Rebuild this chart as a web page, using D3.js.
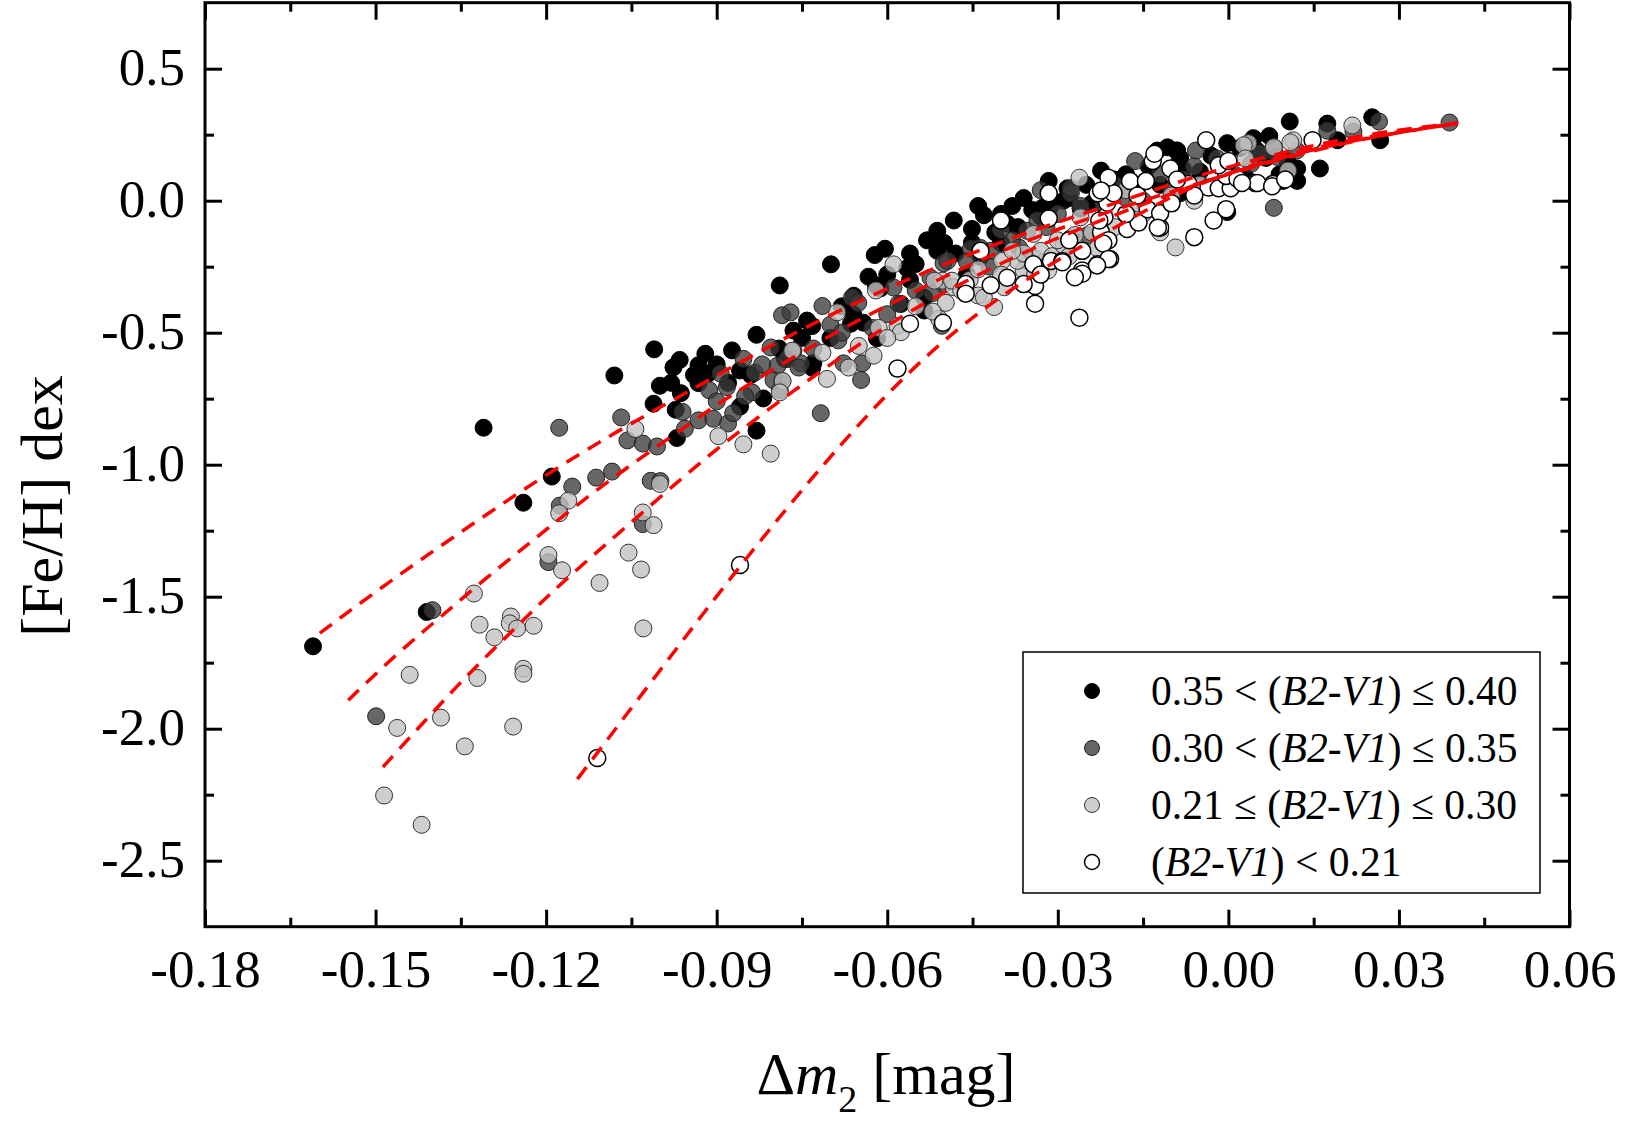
<!DOCTYPE html>
<html>
<head>
<meta charset="utf-8">
<script src="https://cdn.jsdelivr.net/npm/d3@7"></script>
<style>
    body { margin: 0; background: #fff; }
    text { font-family: "Liberation Serif", "Times New Roman", serif; fill: #000; }
</style>
</head>
<body>
<div id="chart"></div>
<script>

// tick values
let xTicks = [-0.18, -0.15, -0.12, -0.09, -0.06, -0.03, 0.00, 0.03, 0.06];
let xMinor = [-0.165, -0.135, -0.105, -0.075, -0.045, -0.015, 0.015, 0.045];
let yTicks = [-2.5, -2.0, -1.5, -1.0, -0.5, 0.0, 0.5];
let yMinor = [-2.25, -1.75, -1.25, -0.75, -0.25, 0.25];

// 0.35 < (B2-V1) <= 0.40
let blackPts = [
    [-0.161,-1.688],[-0.141,-1.558],[-0.131,-0.860],[-0.124,-1.144],[-0.119,-1.045],[-0.108,-0.662],[-0.101,-0.563],[-0.100,-0.701],
    [-0.097,-0.899],[-0.083,-0.871],[-0.083,-0.508],[-0.0965,-0.603],[-0.0976,-0.631],[-0.0932,-0.623],[-0.0963,-0.729],[-0.0972,-0.792],
    [-0.1011,-0.769],[-0.0859,-0.780],[-0.0873,-0.567],[-0.0818,-0.749],[-0.0765,-0.492],[-0.0932,-0.691],[-0.0915,-0.655],[-0.0789,-0.321],
    [-0.0741,-0.454],[-0.0730,-0.615],[-0.0859,-0.643],[-0.0699,-0.241],[-0.0622,-0.206],[-0.0604,-0.182],[-0.0633,-0.288],[-0.0565,-0.256],
    [-0.0664,-0.466],[-0.0642,-0.462],[-0.0659,-0.360],[-0.0612,-0.332],[-0.0576,-0.391],[-0.0535,-0.367],[-0.0535,-0.416],[-0.0530,-0.150],
    [-0.0512,-0.114],[-0.0512,-0.190],[-0.0483,-0.075],[-0.0451,-0.107],[-0.0451,-0.158],[-0.0430,-0.055],[-0.0436,-0.213],[-0.0389,-0.087],
    [-0.0345,-0.035],[-0.0316,0.075],[-0.0283,0.047],[-0.0224,0.114],[-0.0732,-0.475],[-0.0732,-0.633],[-0.0618,-0.521],[-0.0317,-0.047],
    [-0.0327,-0.027],[-0.0312,-0.019],[-0.0002,-0.043],[-0.0107,0.202],[-0.0090,0.190],[-0.0002,0.218],[0.0044,0.237],[0.0072,0.245],
    [-0.0085,0.028],[0.0108,0.300],[0.0174,0.292],[0.0253,0.316],[0.0267,0.229],[0.0192,0.229],[0.0161,0.122],[0.0106,0.122],
    [0.0121,0.122],[0.0104,0.150],[0.0121,0.075],[0.0096,0.075],[0.0066,0.162],[-0.0085,0.162],[-0.0092,0.190],[-0.0125,0.190],
    [-0.0380,-0.020],[-0.0360,0.010],[-0.0290,0.000],[-0.0260,-0.030],[-0.0250,0.060],[-0.0200,0.030],[-0.0180,0.100],[-0.0160,0.050],
    [-0.0140,0.130],[-0.0050,0.110],[0.0000,0.140],[0.0030,0.090],[0.0050,0.190],[-0.0030,0.170],[0.0090,0.100],[-0.0410,-0.120],
    [-0.0480,-0.200],[-0.0560,-0.300],[-0.0600,-0.280],[-0.0680,-0.400],[-0.0700,-0.520],[-0.0790,-0.560],[-0.0880,-0.690],[-0.0900,-0.620],
    [-0.0940,-0.660],[-0.0460,-0.280],[-0.0400,-0.160],[-0.0560,-0.200],
    [-0.044,-0.020],[-0.040,-0.050],[-0.037,-0.100],[-0.033,-0.060],[-0.028,0.010],[-0.024,-0.010],[-0.020,0.080],[-0.012,0.060],
    [-0.008,0.120],[0.002,0.200],[-0.050,-0.160],[-0.055,-0.240],[-0.062,-0.320],[-0.066,-0.430],[-0.075,-0.520],[-0.078,-0.600],
    [-0.084,-0.660],[-0.092,-0.580],[-0.098,-0.690]
];

// 0.30 < (B2-V1) <= 0.35
let darkPts = [
    [-0.1177,-0.860],[-0.1068,-0.821],[-0.1057,-0.908],[-0.1030,-0.920],[-0.1112,-1.049],[-0.1084,-1.026],[-0.1154,-1.083],[-0.1176,-1.155],
    [-0.1016,-1.061],[-0.1030,-1.225],[-0.1196,-1.369],[-0.1400,-1.551],[-0.1499,-1.953],[-0.0999,-1.062],[-0.1005,-0.931],[-0.0956,-0.864],
    [-0.0932,-0.832],[-0.0906,-0.826],[-0.0880,-0.844],[-0.0871,-0.805],[-0.0913,-0.718],[-0.0882,-0.706],[-0.0853,-0.599],[-0.0833,-0.651],
    [-0.0838,-0.726],[-0.0805,-0.556],[-0.0776,-0.600],[-0.0793,-0.625],[-0.0785,-0.683],[-0.0789,-0.718],[-0.0785,-0.434],[-0.0770,-0.423],
    [-0.0893,-0.655],[-0.0765,-0.568],[-0.0752,-0.616],[-0.0717,-0.805],[-0.0714,-0.399],[-0.0756,-0.632],[-0.0686,-0.529],[-0.0677,-0.616],
    [-0.0644,-0.616],[-0.0646,-0.679],[-0.0589,-0.329],[-0.0662,-0.367],[-0.0651,-0.387],[-0.0626,-0.482],[-0.0501,-0.237],[-0.0524,-0.292],
    [-0.0501,-0.316],[-0.0494,-0.228],[-0.0504,-0.474],[-0.0453,-0.182],[-0.0436,-0.179],[-0.0418,-0.190],[-0.0380,-0.150],[-0.0368,-0.178],
    [-0.0354,-0.114],[-0.0336,-0.075],[-0.0354,-0.228],[-0.0277,-0.142],[-0.0247,-0.130],[-0.0277,0.028],[-0.0277,0.047],[-0.0164,0.150],
    [-0.0057,0.190],[0.0080,0.202],[0.0086,0.166],[0.0080,-0.027],[0.0174,0.265],[0.0220,0.261],[0.0265,0.300],[0.0389,0.296],
    [0.0057,0.178],[-0.0200,0.060],[-0.0120,0.100],[-0.0100,0.040],[-0.0060,0.130],[0.0010,0.100],[-0.0300,-0.050],[-0.0220,-0.010],
    [-0.0420,-0.250],[-0.0550,-0.340],[-0.0600,-0.430],[-0.0700,-0.470],[-0.0730,-0.560],[-0.0820,-0.620],[-0.0850,-0.740],[-0.0960,-0.800],
    [-0.0330,0.040],[-0.0150,0.000],
    [-0.046,-0.230],[-0.040,-0.110],[-0.032,-0.100],[-0.026,-0.020],[-0.018,0.010],[-0.008,0.080],[-0.002,0.160],[0.004,0.140],
    [0.012,0.190],[-0.052,-0.350],[-0.058,-0.390],[-0.068,-0.500],[-0.080,-0.680],[-0.090,-0.760]
];

// 0.21 <= (B2-V1) <= 0.30
let lightPts = [
    [-0.1043,-0.865],[-0.1161,-1.136],[-0.1177,-1.184],[-0.1030,-1.181],[-0.1196,-1.342],[-0.1172,-1.400],[-0.1055,-1.333],[-0.1033,-1.397],
    [-0.1106,-1.448],[-0.1327,-1.488],[-0.1317,-1.606],[-0.1262,-1.575],[-0.1264,-1.601],[-0.1251,-1.620],[-0.1222,-1.610],[-0.1291,-1.654],
    [-0.1240,-1.773],[-0.1240,-1.792],[-0.1321,-1.808],[-0.1440,-1.796],[-0.1029,-1.620],[-0.1462,-1.997],[-0.1385,-1.958],[-0.1258,-1.992],
    [-0.1343,-2.067],[-0.1485,-2.253],[-0.1419,-2.364],[-0.0805,-0.958],[-0.0853,-0.923],[-0.0897,-0.892],[-0.1011,-1.229],[-0.1000,-1.073],
    [-0.0784,-0.683],[-0.0789,-0.726],[-0.0767,-0.568],[-0.0688,-0.423],[-0.0714,-0.576],[-0.0668,-0.632],[-0.0624,-0.587],[-0.0706,-0.675],
    [-0.0589,-0.241],[-0.0620,-0.340],[-0.0615,-0.482],[-0.0582,-0.474],[-0.0576,-0.498],[-0.0509,-0.447],[-0.0497,-0.387],[-0.0440,-0.359],
    [-0.0412,-0.403],[-0.0394,-0.328],[-0.0360,-0.264],[-0.0317,-0.264],[-0.0503,-0.303],[-0.0483,-0.328],[-0.0455,-0.300],[-0.0430,-0.367],
    [-0.0371,-0.228],[-0.0340,-0.221],[-0.0325,-0.233],[-0.0343,-0.126],[-0.0517,-0.303],[-0.0486,-0.303],[-0.0398,-0.228],[-0.0260,-0.063],
    [-0.0262,0.087],[-0.0093,-0.177],[0.0035,0.218],[0.0218,0.285],[0.0114,0.229],[0.0105,0.114],[0.0080,0.202],[0.0109,0.221],
    [0.0027,0.210],[-0.0360,-0.200],[-0.0330,-0.190],[-0.0310,-0.210],[-0.0290,-0.170],[-0.0270,-0.130],[-0.0300,-0.150],[-0.0200,-0.100],
    [-0.0150,-0.050],[-0.0100,0.020],[-0.0050,0.060],[-0.0180,0.040],[-0.0400,-0.280],[-0.0550,-0.400],[-0.0650,-0.550],[-0.0230,-0.180],
    [-0.0120,-0.120],
    [-0.044,-0.260],[-0.038,-0.190],[-0.034,-0.280],[-0.028,-0.210],[-0.024,-0.120],[-0.016,-0.010],[-0.006,0.000],[0.003,0.160],
    [-0.047,-0.340],[-0.052,-0.420],[-0.060,-0.520]
];

// (B2-V1) < 0.21
let whitePts = [
    [-0.1110,-2.111],[-0.0859,-1.380],[-0.0582,-0.636],[-0.0560,-0.466],[-0.0502,-0.462],[-0.0462,-0.316],[-0.0462,-0.352],[-0.0418,-0.320],
    [-0.0389,-0.292],[-0.0340,-0.323],[-0.0340,-0.390],[-0.0343,-0.241],[-0.0312,-0.228],[-0.0292,-0.228],[-0.0262,-0.443],[-0.0257,-0.264],
    [-0.0230,-0.241],[-0.0208,-0.221],[-0.0257,-0.190],[-0.0224,-0.119],[-0.0211,-0.150],[-0.0218,-0.063],[-0.0213,-0.008],[-0.0230,0.028],
    [-0.0202,0.028],[-0.0211,0.087],[-0.0173,0.075],[-0.0145,0.075],[-0.0178,-0.107],[-0.0158,-0.083],[-0.0120,-0.102],[-0.0133,0.150],
    [-0.0102,0.122],[-0.0060,-0.138],[-0.0026,-0.075],[-0.0004,-0.032],[-0.0035,0.050],[-0.0017,0.047],[0.0022,0.075],[0.0004,0.047],
    [-0.0039,0.229],[-0.0130,0.178],[-0.0224,0.039],[-0.0316,0.028],[-0.0316,-0.067],[-0.0227,-0.075],[-0.0142,-0.032],[-0.0120,-0.048],
    [-0.0124,-0.102],[-0.0070,0.063],[-0.0004,0.094],[0.0016,0.083],[0.0047,0.067],[0.0078,0.063],[-0.0017,0.134],[0.0000,0.150],
    [-0.0220,-0.162],[-0.0211,-0.221],[-0.0231,-0.245],[-0.0257,-0.277],[-0.0292,-0.233],[-0.0436,-0.190],[-0.0400,-0.075],[-0.0360,-0.316],
    [0.0148,0.229],[0.0051,0.067],[0.0077,0.055],[0.0024,0.067],
    [-0.028,-0.150],[-0.018,-0.050],[-0.010,-0.010],[-0.006,0.020],[-0.016,0.020],[-0.009,0.080],[0.010,0.080],[-0.027,-0.290],
    [-0.033,-0.280]
];

// fitted relations
let fitBlack = [[-0.1598,-1.638],[-0.1480,-1.449],[-0.1351,-1.256],[-0.1216,-1.059],[-0.1082,-0.881],[-0.0952,-0.726],[-0.0809,-0.551],
    [-0.0660,-0.389],[-0.0519,-0.256],[-0.0371,-0.131],[-0.0220,-0.025],[-0.0072,0.085],[0.0092,0.183],[0.0255,0.259],[0.0403,0.293]];
let fitDark = [[-0.1548,-1.892],[-0.1462,-1.714],[-0.1386,-1.578],[-0.1304,-1.426],[-0.1223,-1.286],[-0.1140,-1.142],[-0.1052,-1.002],
    [-0.0969,-0.877],[-0.0881,-0.744],[-0.0794,-0.631],[-0.0695,-0.502],[-0.0609,-0.407],[-0.0512,-0.300],[-0.0424,-0.212],[-0.0318,-0.120],
    [-0.0195,-0.030],[-0.0054,0.065],[0.0092,0.160],[0.0255,0.245],[0.0403,0.293]];
let fitLight = [[-0.1487,-2.145],[-0.1409,-1.960],[-0.1339,-1.797],[-0.1263,-1.638],[-0.1193,-1.487],[-0.1117,-1.343],[-0.1040,-1.199],
    [-0.0959,-1.047],[-0.0888,-0.919],[-0.0811,-0.794],[-0.0727,-0.661],[-0.0647,-0.540],[-0.0559,-0.415],[-0.0466,-0.309],[-0.0378,-0.214],
    [-0.0295,-0.135],[-0.0195,-0.050],[-0.0090,0.035],[0.0021,0.120],[0.0197,0.225],[0.0403,0.293]];
let fitWhite = [[-0.1145,-2.191],[-0.1000,-1.780],[-0.0859,-1.380],[-0.0706,-0.980],[-0.0588,-0.700],[-0.0466,-0.460],[-0.0331,-0.260],
    [-0.0190,-0.090],[-0.0090,0.030],[0.0021,0.125],[0.0197,0.230],[0.0403,0.293]];

// legend rows: plain, italic, plain
let legendLabels = [
    ["0.35 < (", "B2-V1", ") \u2264 0.40"],
    ["0.30 < (", "B2-V1", ") \u2264 0.35"],
    ["0.21 \u2264 (", "B2-V1", ") \u2264 0.30"],
    ["(", "B2-V1", ") < 0.21"]
];


class MetallicityVis {

    constructor(parentElement) {
        this.parentElement = parentElement;
        this.groups = [
            {pts: blackPts, fill: "#000", fillOpacity: 1, stroke: "#000", sw: 1},
            {pts: darkPts, fill: "#3c3c3c", fillOpacity: 0.78, stroke: "#222", sw: 1},
            {pts: lightPts, fill: "#c2c2c2", fillOpacity: 0.8, stroke: "#333", sw: 1},
            {pts: whitePts, fill: "#fff", fillOpacity: 1, stroke: "#000", sw: 1.5}
        ];
        this.fits = [fitBlack, fitDark, fitLight, fitWhite];
        this.initVis();
    }

    initVis() {
        let vis = this;

        vis.margin = {top: 2.7, right: 64.5, bottom: 201.3, left: 205};
        vis.width = 1634 - vis.margin.left - vis.margin.right;
        vis.height = 1128 - vis.margin.top - vis.margin.bottom;

        vis.root = d3.select("#" + vis.parentElement).append("svg")
            .attr("width", 1634)
            .attr("height", 1128);

        vis.svg = vis.root.append("g")
            .attr("transform", "translate(" + vis.margin.left + "," + vis.margin.top + ")");

        vis.x = d3.scaleLinear().domain([-0.18, 0.06]).range([0, vis.width]);
        vis.y = d3.scaleLinear().domain([-2.75, 0.75]).range([vis.height, 0]);

        vis.drawAxes();
        vis.updateVis();
    }

    drawAxes() {
        let vis = this;

        let styleAxis = function(g) {
            g.select(".domain").remove();
            g.selectAll(".tick line").attr("stroke", "#000").attr("stroke-width", 3);
            g.selectAll("text")
                .attr("font-family", "'Liberation Serif', 'Times New Roman', serif")
                .attr("font-size", 53)
                .attr("fill", "#000");
        };

        // bottom
        vis.svg.append("g")
            .attr("transform", "translate(0," + vis.height + ")")
            .call(d3.axisBottom(vis.x).tickValues(xTicks).tickSize(-17).tickFormat(d => d.toFixed(2)))
            .call(styleAxis)
            .selectAll("text").attr("y", 60).attr("dy", 0);
        vis.svg.append("g")
            .attr("transform", "translate(0," + vis.height + ")")
            .call(d3.axisBottom(vis.x).tickValues(xMinor).tickSize(-9).tickFormat(""))
            .call(styleAxis);

        // top
        vis.svg.append("g")
            .call(d3.axisTop(vis.x).tickValues(xTicks).tickSize(-17).tickFormat(""))
            .call(styleAxis);
        vis.svg.append("g")
            .call(d3.axisTop(vis.x).tickValues(xMinor).tickSize(-9).tickFormat(""))
            .call(styleAxis);

        // left
        vis.svg.append("g")
            .call(d3.axisLeft(vis.y).tickValues(yTicks).tickSize(-17).tickPadding(20).tickFormat(d => d.toFixed(1)))
            .call(styleAxis)
            .selectAll("text").attr("dy", "0.29em");
        vis.svg.append("g")
            .call(d3.axisLeft(vis.y).tickValues(yMinor).tickSize(-9).tickFormat(""))
            .call(styleAxis);

        // right
        vis.svg.append("g")
            .attr("transform", "translate(" + vis.width + ",0)")
            .call(d3.axisRight(vis.y).tickValues(yTicks).tickSize(-17).tickFormat(""))
            .call(styleAxis);
        vis.svg.append("g")
            .attr("transform", "translate(" + vis.width + ",0)")
            .call(d3.axisRight(vis.y).tickValues(yMinor).tickSize(-9).tickFormat(""))
            .call(styleAxis);

        // frame
        vis.svg.append("rect")
            .attr("width", vis.width)
            .attr("height", vis.height)
            .attr("fill", "none")
            .attr("stroke", "#000")
            .attr("stroke-width", 3);

        // axis titles
        let xt = vis.root.append("text")
            .attr("x", 886)
            .attr("y", 1094)
            .attr("text-anchor", "middle")
            .attr("font-size", 60);
        xt.append("tspan").text("\u0394");
        xt.append("tspan").attr("font-style", "italic").text("m");
        xt.append("tspan").attr("font-size", 38).attr("dy", 18).text("2");
        xt.append("tspan").attr("dy", -18).text(" [mag]");

        vis.root.append("text")
            .attr("transform", "translate(62,506) rotate(-90)")
            .attr("text-anchor", "middle")
            .attr("font-size", 60)
            .text("[Fe/H] dex");
    }

    updateVis() {
        let vis = this;

        vis.groups.forEach(function(grp) {
            vis.svg.append("g")
                .selectAll("circle")
                .data(grp.pts)
                .enter().append("circle")
                .attr("cx", d => vis.x(d[0]))
                .attr("cy", d => vis.y(d[1]))
                .attr("r", 8.5)
                .attr("fill", grp.fill)
                .attr("fill-opacity", grp.fillOpacity)
                .attr("stroke", grp.stroke)
                .attr("stroke-width", grp.sw);
        });

        let line = d3.line()
            .curve(d3.curveBasis)
            .x(d => vis.x(d[0]))
            .y(d => vis.y(d[1]));

        vis.svg.selectAll(".fit")
            .data(vis.fits)
            .enter().append("path")
            .attr("class", "fit")
            .attr("d", line)
            .attr("fill", "none")
            .attr("stroke", "#ff0000")
            .attr("stroke-width", 3.5)
            .attr("stroke-dasharray", "15,10");

        // legend
        let leg = vis.root.append("g");
        leg.append("rect")
            .attr("x", 1023).attr("y", 652)
            .attr("width", 517).attr("height", 241)
            .attr("fill", "#fff")
            .attr("stroke", "#000")
            .attr("stroke-width", 1.5);

        let rows = leg.selectAll(".row")
            .data(legendLabels)
            .enter().append("g")
            .attr("class", "row")
            .attr("transform", (d, i) => "translate(0," + (691 + i * 57) + ")");

        rows.append("circle")
            .attr("cx", 1092)
            .attr("r", 7.5)
            .attr("fill", (d, i) => vis.groups[i].fill)
            .attr("fill-opacity", (d, i) => vis.groups[i].fillOpacity)
            .attr("stroke", (d, i) => vis.groups[i].stroke)
            .attr("stroke-width", (d, i) => vis.groups[i].sw);

        let txt = rows.append("text")
            .attr("x", 1151)
            .attr("y", 14)
            .attr("font-size", 41.5);
        txt.append("tspan").text(d => d[0]);
        txt.append("tspan").attr("font-style", "italic").text(d => d[1]);
        txt.append("tspan").text(d => d[2]);
    }
}

new MetallicityVis("chart");

</script>
</body>
</html>
